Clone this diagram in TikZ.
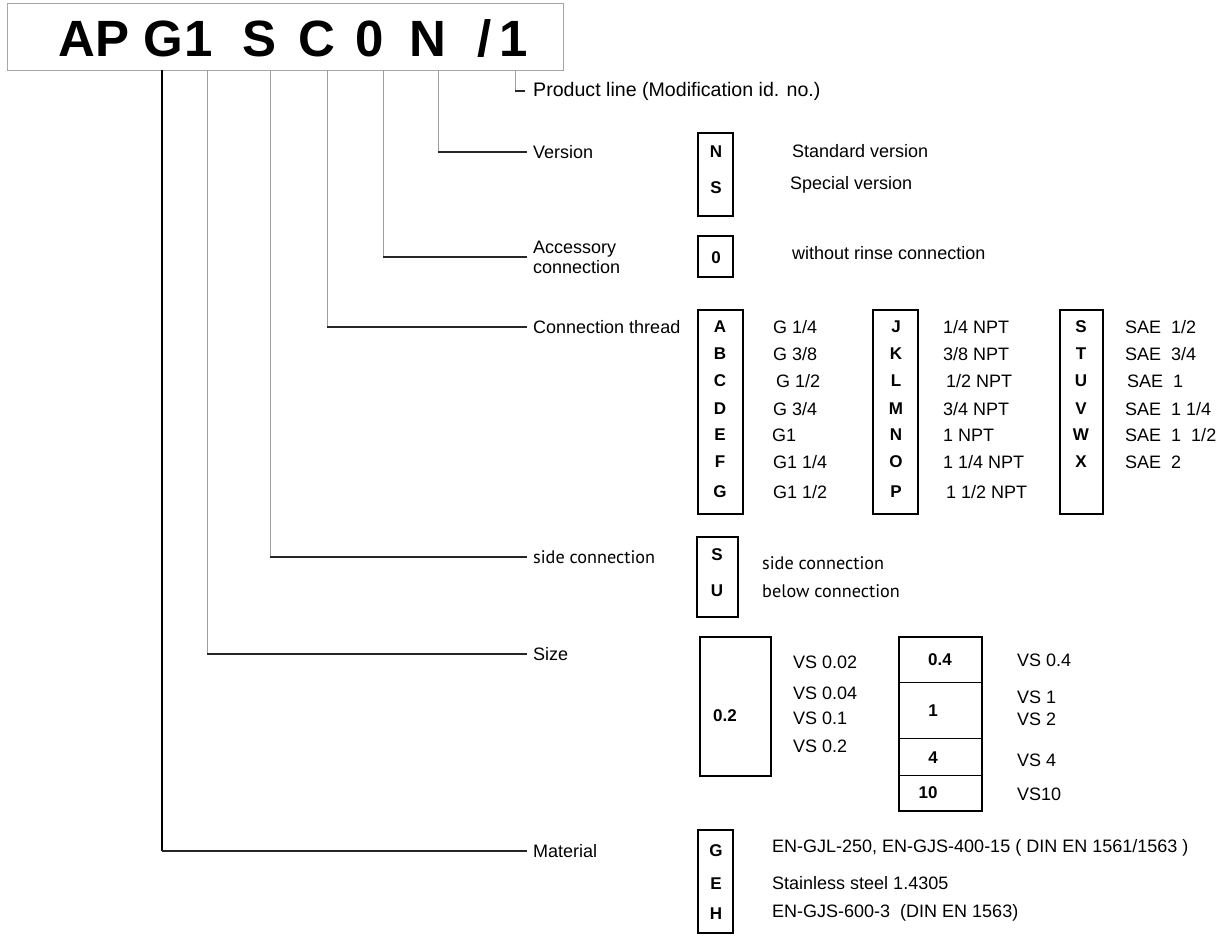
\documentclass[tikz,border=0pt]{standalone}
\usepackage{fontspec}
\setmainfont{Liberation Sans}
\newfontfamily\myr{PT Sans}
\begin{document}
\begin{tikzpicture}[x=1pt,y=-1pt,
  lbl/.style={anchor=west,inner sep=0pt,font=\fontsize{18}{20}\selectfont},
  mlbl/.style={anchor=west,inner sep=0pt,font=\myr\fontsize{18.2}{21}\selectfont},
  key/.style={anchor=center,inner sep=0pt,font=\fontsize{17}{20}\selectfont\bfseries},
  big/.style={anchor=base,inner sep=0pt,font=\fontsize{51}{60}\selectfont\bfseries},
  box/.style={draw,line width=1.5pt},
  thin/.style={draw,line width=0.6pt},
  vline/.style={draw=gray!75,line width=0.7pt},
  gline/.style={draw=black,line width=1.2pt},
  hline/.style={draw=black!85,line width=1.6pt}]
\useasboundingbox (0,0) rectangle (1226,935);

% header
\node[draw=gray!70,line width=0.8pt,minimum width=556pt,minimum height=67pt,inner sep=0pt,anchor=north west] (hdr) at (7,3) {};
\node[big] (cAP) at (94,56) {AP};
\node[big] (cG) at (163,56) {G};
\node[big] (c1) at (199,56) {1};
\node[big] (cS) at (260,56) {S};
\node[big] (cC) at (317,56) {C};
\node[big] (c0) at (370,56) {0};
\node[big] (cN) at (428,56) {N};
\node[big] (cSl) at (485,56) {/};
\node[big] (cM) at (514,56) {1};

\coordinate (tG) at (162,70);
\coordinate (t1) at (207,70);
\coordinate (tS) at (270,70);
\coordinate (tC) at (327,70);
\coordinate (t0) at (383,70);
\coordinate (tN) at (438,70);
\coordinate (tM) at (515,70);

% labels
\node[lbl,font=\fontsize{19.6}{22}\selectfont] (lProd) at (533,91) {Product line (Modification id. no.)};
\node[lbl] (lVer) at (533,152) {Version};
\node[lbl,align=left,font=\fontsize{18}{20}\selectfont] (lAcc) at (533,257) {Accessory\\connection};
\node[lbl] (lThr) at (533,327) {Connection thread};
\node[mlbl] (lSide) at (533,557) {side connection};
\node[lbl] (lSize) at (533,654) {Size};
\node[lbl] (lMat) at (533,851) {Material};

% connectors
\draw[vline] (tM) -- (tM |- lProd.west);
\draw[hline] (tM |- lProd.west) -- ([xshift=-8pt]lProd.west);
\draw[vline] (tN) -- (tN |- lVer.west);
\draw[hline] (tN |- lVer.west) -- ([xshift=-6pt]lVer.west);
\draw[vline] (t0) -- (t0 |- lAcc.west);
\draw[hline] (t0 |- lAcc.west) -- ([xshift=-6pt]lAcc.west);
\draw[vline] (tC) -- (tC |- lThr.west);
\draw[hline] (tC |- lThr.west) -- ([xshift=-6pt]lThr.west);
\draw[vline] (tS) -- (tS |- lSide.west);
\draw[hline] (tS |- lSide.west) -- ([xshift=-6pt]lSide.west);
\draw[vline] (t1) -- (t1 |- lSize.west);
\draw[hline] (t1 |- lSize.west) -- ([xshift=-6pt]lSize.west);
\draw[gline] (tG) -- (tG |- lMat.west);
\draw[hline] (tG |- lMat.west) -- ([xshift=-6pt]lMat.west);

% Version
\draw[box] (698,133) rectangle (733,216);
\node[key] (vN) at (716,152) {N};
\node[key] (vS) at (716,188) {S};
\node[lbl] (vNt) at (792,151) {Standard version};
\node[lbl] (vSt) at (790,185) {Special version};

% Accessory
\draw[box] (698,236) rectangle (733,277);
\node[key] (a0) at (716,258) {0};
\node[lbl] (a0t) at (792,253) {without rinse connection};

% Thread box 1
\draw[box] (698,310) rectangle (743,514);
\foreach \k/\y/\t/\tx in {A/327/G 1\slash4/773, B/354/G 3\slash8/773, C/381/G 1\slash2/776, D/409/G 3\slash4/773, E/435/G1/772, F/462/G1 1\slash4/773, G/492/G1 1\slash2/773}{
  \node[key] (th\k) at (720,\y) {\k};
  \node[lbl] (tht\k) at (\tx,\y) {\t};
}
% Thread box 2
\draw[box] (873,310) rectangle (918,514);
\foreach \k/\y/\t/\tx in {J/327/1\slash4 NPT/943, K/354/3\slash8 NPT/943, L/381/1\slash2 NPT/946, M/409/3\slash4 NPT/943, N/435/1 NPT/943, O/462/1 1\slash4 NPT/943, P/492/1 1\slash2 NPT/946}{
  \node[key] (th\k) at (896,\y) {\k};
  \node[lbl] (tht\k) at (\tx,\y) {\t};
}
% Thread box 3
\draw[box] (1060,310) rectangle (1103,514);
\foreach \k/\y/\t/\tx in {S/327/SAE~ 1\slash2/1125, T/354/SAE~ 3\slash4/1125, U/381/SAE~ 1/1127, V/409/SAE~ 1 1\slash4/1125, W/435/SAE~ 1~ 1\slash2/1125, X/462/SAE~ 2/1125}{
  \node[key] (tr\k) at (1081,\y) {\k};
  \node[lbl] (trt\k) at (\tx,\y) {\t};
}

% side connection
\draw[box] (697,537) rectangle (738,617);
\node[key] (sS) at (717,555) {S};
\node[key] (sU) at (717,591) {U};
\node[mlbl] (sSt) at (762,563) {side connection};
\node[mlbl] (sUt) at (762,591) {below connection};

% Size
\draw[box] (700,637) rectangle (771,776);
\node[key] (z02) at (725,716) {0.2};
\node[lbl] (zt1) at (793,662) {VS 0.02};
\node[lbl] (zt2) at (793,693) {VS 0.04};
\node[lbl] (zt3) at (793,718) {VS 0.1};
\node[lbl] (zt4) at (793,746) {VS 0.2};
\draw[box] (899,637) rectangle (982,811);
\draw[thin] (899,682) -- (982,682);
\draw[thin] (899,738) -- (982,738);
\draw[thin] (899,775) -- (982,775);
\node[key] (z04) at (940,660) {0.4};
\node[key] (z1) at (933,711) {1};
\node[key] (z4) at (933,758) {4};
\node[key] (z10) at (928,793) {10};
\node[lbl] (zu1) at (1017,660) {VS 0.4};
\node[lbl] (zu2) at (1017,697) {VS 1};
\node[lbl] (zu3) at (1017,719) {VS 2};
\node[lbl] (zu4) at (1017,760) {VS 4};
\node[lbl] (zu5) at (1017,794) {VS10};

% Material
\draw[box] (698,830) rectangle (733,933);
\node[key] (mG) at (716,851) {G};
\node[key] (mE) at (716,884) {E};
\node[key] (mH) at (716,914) {H};
\node[lbl] (mGt) at (772,848) {EN-GJL-250, EN-GJS-400-15 ( DIN EN 1561/1563 )};
\node[lbl] (mEt) at (772,883) {Stainless steel 1.4305};
\node[lbl] (mHt) at (772,913) {EN-GJS-600-3~ (DIN EN 1563)};
\end{tikzpicture}
\end{document}
